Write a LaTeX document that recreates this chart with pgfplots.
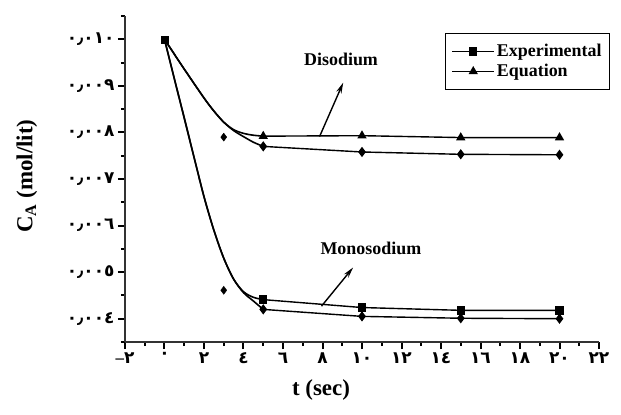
\documentclass[border=0pt]{standalone}
\usepackage{fontspec}
\setmainfont{Liberation Serif}
\newfontfamily\arabicfont[Script=Arabic]{DejaVu Sans}
\usepackage{pgfplots}
\pgfplotsset{compat=1.18}
\usetikzlibrary{arrows.meta}

\pgfplotsset{
  crv/.style={black,line width=1.6bp,smooth,no markers,forget plot},
  seg/.style={black,line width=1.4bp,forget plot},
}
\tikzset{
  lbl/.style={font=\bfseries\fontsize{18}{20}\selectfont},
  pointer/.style={line width=1.4bp,-{Stealth[length=11bp,width=5.5bp]}},
}

\begin{document}
\begin{tikzpicture}
\begin{axis}[
  scale only axis, width=474bp, height=326bp,
  xmin=-2, xmax=22, ymin=0.0035, ymax=0.0105,
  axis lines*=left,
  axis line style={black!80,line width=2bp},
  scaled y ticks=false,
  xtick={-2,0,2,4,6,8,10,12,14,16,18,20,22},
  xticklabels={{\rmfamily\bfseries –}٢,٠,٢,٤,٦,٨,١٠,١٢,١٤,١٦,١٨,٢٠,٢٢},
  minor xtick={-1,1,3,5,7,9,11,13,15,17,19,21},
  ytick={0.004,0.005,0.006,0.007,0.008,0.009,0.010},
  yticklabels={٠٫٠٠٤,٠٫٠٠٥,٠٫٠٠٦,٠٫٠٠٧,٠٫٠٠٨,٠٫٠٠٩,٠٫٠١٠},
  minor ytick={0.0035,0.0045,0.0055,0.0065,0.0075,0.0085,0.0095,0.0105},
  tick align=outside,
  major tick length=7bp, minor tick length=4bp,
  every tick/.style={black,line width=2bp},
  tick label style={font=\arabicfont\bfseries\fontsize{17}{18}\selectfont},
  xlabel={\bfseries t (sec)},
  ylabel={\bfseries C\textsubscript{A} (mol/lit)},
  label style={font=\fontsize{23}{26}\selectfont},
  xlabel style={at={(axis description cs:0.4135,-0.147)},anchor=center},
  ylabel style={at={(axis description cs:-0.207,0.509)},anchor=center},
  legend style={at={(0.675,0.948)},anchor=north west,draw=black,line width=1.2bp,
    font=\bfseries\fontsize{18}{19}\selectfont,inner xsep=6bp,inner ysep=9bp,
    row sep=2bp,cells={anchor=west}},
  legend image code/.code={\draw[mark repeat=2,mark phase=2,#1]
    plot coordinates {(0bp,0bp) (21bp,0bp) (42bp,0bp)};},
  clip=false,
]
% legend only
\addlegendimage{black,line width=1.4bp,mark=square*,mark size=3.5bp}
\addlegendentry{Experimental}
\addlegendimage{black,line width=1.4bp,mark=triangle*,mark size=4bp}
\addlegendentry{Equation}

% Disodium curves
\addplot[crv] coordinates {(0,0.0100)(1,0.00936)(2,0.00874)(2.5,0.00846)(3,0.00822)(3.5,0.00806)(4,0.00798)(4.5,0.00794)(5,0.00792)};
\addplot[crv] coordinates {(0,0.0100)(1,0.00936)(2,0.00874)(2.5,0.00846)(3,0.00822)(3.5,0.00804)(4,0.00791)(4.5,0.00779)(5,0.00770)};
\addplot[seg,mark=triangle*,mark size=4bp] coordinates {(5,0.00792)(10,0.00793)(15,0.00789)(20,0.00789)};
\addplot[seg,mark=diamond*,mark size=4bp] coordinates {(5,0.00770)(10,0.00758)(15,0.00753)(20,0.00752)};

% Monosodium curves
\addplot[crv] coordinates {(0,0.0100)(0.5,0.00915)(1,0.00831)(1.5,0.00746)(2,0.00662)(2.5,0.00590)(3,0.00530)(3.5,0.00485)(4,0.00458)(4.5,0.00446)(5,0.00441)};
\addplot[crv] coordinates {(0,0.0100)(0.5,0.00915)(1,0.00831)(1.5,0.00746)(2,0.00662)(2.5,0.00590)(3,0.00530)(3.5,0.00485)(4,0.00456)(4.5,0.00438)(5,0.00420)};
\addplot[seg,mark=square*,mark size=3.5bp] coordinates {(5,0.00441)(10,0.00424)(15,0.00418)(20,0.00418)};
\addplot[seg,mark=diamond*,mark size=4bp] coordinates {(5,0.00420)(10,0.00405)(15,0.00401)(20,0.00400)};

% start point and off-curve points
\addplot[only marks,mark=square*,mark size=3.5bp,forget plot] coordinates {(0,0.0100)};
\addplot[only marks,mark=diamond*,mark size=4bp,forget plot] coordinates {(3,0.00790)(3,0.00461)};

% annotations
\node[lbl] at (axis cs:8.94,0.00957) {Disodium};
\draw[pointer] (axis cs:7.85,0.00791) -- (axis cs:9.05,0.00907);
\node[lbl] at (axis cs:10.45,0.00551) {Monosodium};
\draw[pointer] (axis cs:7.95,0.00427) -- (axis cs:9.55,0.00510);
\end{axis}
\pgfresetboundingbox
\path[use as bounding box] (-125bp,-73bp) rectangle (496bp,342bp);
\end{tikzpicture}
\end{document}
